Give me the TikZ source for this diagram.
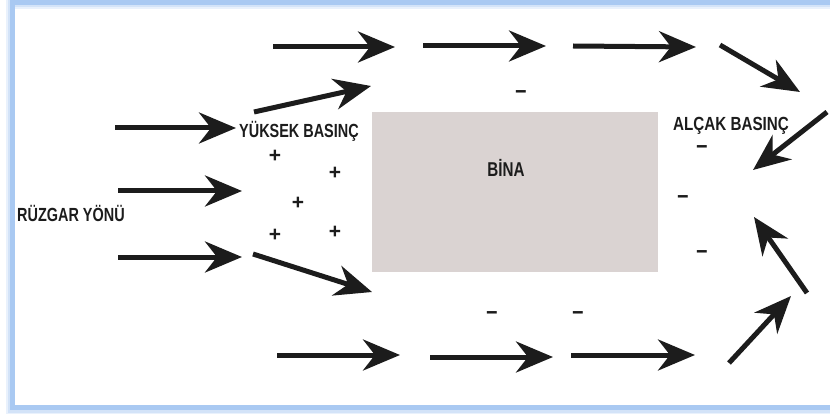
\documentclass[tikz,border=0pt]{standalone}
\usepackage{fontspec}
\setmainfont{Liberation Sans}
\newfontfamily\cond{Liberation Sans}[FakeStretch=0.76]
\newfontfamily\condw{Liberation Sans}[FakeStretch=0.80]
\usetikzlibrary{arrows.meta}
\definecolor{frameblue}{HTML}{A9C9F2}
\definecolor{binafill}{HTML}{DAD3D2}
\definecolor{ink}{HTML}{1C1C1C}
\begin{document}
\begin{tikzpicture}[x=1pt,y=-1pt,
  wind/.style={line width=5pt, draw=ink, -{Stealth[length=37pt,width=31pt,inset=12pt]}},
  lbl/.style={font=\cond\bfseries\fontsize{19}{19}\selectfont, text=ink, inner sep=0pt},
  plus/.style={font=\bfseries\fontsize{21}{21}\selectfont, text=ink, inner sep=0pt},
  minus/.style={font=\condw\bfseries\fontsize{25}{25}\selectfont, text=ink, inner sep=0pt,
                text height=8pt, text depth=0pt, yshift=-2.75pt}]
\useasboundingbox (0,0) rectangle (830,414);
% frame with soft shadow
\draw[frameblue, line width=9pt, opacity=0.25] (10,5) rectangle (838,410);
\draw[frameblue, line width=7pt, opacity=0.35] (11,4) rectangle (839,409);
\draw[frameblue, line width=5pt] (12.5,2.5) rectangle (840,407.5);
% building
\node[fill=binafill, minimum width=286pt, minimum height=160pt, inner sep=0pt] (bina) at (515,192) {};
\node[lbl, font=\cond\bfseries\fontsize{20}{20}\selectfont] (binatext) at (506,168) {BİNA};
% labels
\node[lbl, anchor=west] (ruzgar) at (17,213) {RÜZGAR YÖNÜ};
\node[lbl, anchor=west] (yuksek) at (239,131) {YÜKSEK BASINÇ};
\node[lbl, anchor=west, font=\condw\bfseries\fontsize{19}{19}\selectfont] (alcak) at (673,126) {ALÇAK BASINÇ};
% plus signs
\node[plus] (p1) at (275,156) {+};
\node[plus] (p2) at (335,173) {+};
\node[plus] (p3) at (298,203) {+};
\node[plus] (p4) at (275,235) {+};
\node[plus] (p5) at (335,232) {+};
% minus signs
\node[minus] (m1) at (521,92) {–};
\node[minus] (m2) at (702,147) {–};
\node[minus] (m3) at (683,197) {–};
\node[minus] (m4) at (702,252) {–};
\node[minus] (m5) at (492,313) {–};
\node[minus] (m6) at (578,313) {–};
% arrow end points
\coordinate (t1a) at (273,47);  \coordinate (t1b) at (395,47);
\coordinate (t2a) at (423,46);  \coordinate (t2b) at (546,46);
\coordinate (t3a) at (573,46);  \coordinate (t3b) at (696,47);
\coordinate (t4a) at (720,45);  \coordinate (t4b) at (800,92);
\coordinate (t5a) at (827,112); \coordinate (t5b) at (753,170);
\coordinate (d1a) at (254,112); \coordinate (d1b) at (371,86);
\coordinate (l1a) at (115,128); \coordinate (l1b) at (236,128);
\coordinate (l2a) at (118,191); \coordinate (l2b) at (242,191);
\coordinate (l3a) at (118,257); \coordinate (l3b) at (242,257);
\coordinate (d2a) at (253,254); \coordinate (d2b) at (372,292);
\coordinate (b1a) at (277,355); \coordinate (b1b) at (400,355);
\coordinate (b2a) at (430,357); \coordinate (b2b) at (553,357);
\coordinate (b3a) at (571,355); \coordinate (b3b) at (695,355);
\coordinate (b4a) at (729,363); \coordinate (b4b) at (791,296);
\coordinate (b5a) at (807,293); \coordinate (b5b) at (754,217);
% arrows
\foreach \a in {t1,t2,t3,t4,t5,d1,l1,l2,l3,d2,b1,b2,b3,b4,b5}
  \draw[wind] (\a a) -- (\a b);
\end{tikzpicture}
\end{document}
